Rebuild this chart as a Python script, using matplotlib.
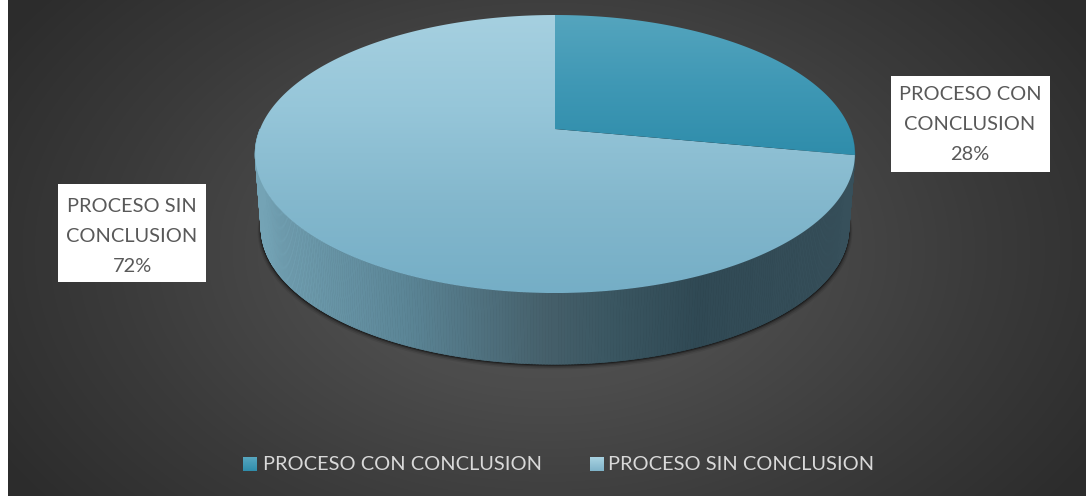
import numpy as np
import matplotlib
matplotlib.use('Agg')
import matplotlib.pyplot as plt
from matplotlib.colors import LinearSegmentedColormap
from matplotlib.patches import Polygon, Rectangle
from matplotlib.collections import PolyCollection

categorias = ['PROCESO CON CONCLUSION', 'PROCESO SIN CONCLUSION']
valores = [28, 72]
etiquetas = ['PROCESO CON\nCONCLUSION', 'PROCESO SIN\nCONCLUSION']

W, H = 1086, 496
plt.rcParams['font.family'] = ['Lato', 'DejaVu Sans']

fig = plt.figure(figsize=(W / 100, H / 100), dpi=100, facecolor='white')
ax = fig.add_axes([0, 0, 1, 1])
ax.set_axis_off()


# vista en perspectiva del disco unidad: angulo medido desde arriba, sentido horario
def rim(ang, cae=0.0, esc=1.0):
    u, v = np.sin(ang), np.cos(ang)
    d = 0.18 * v + 1
    x = 295 * u / d
    y = (-111.3 * v + 129) / d
    return 555 + esc * x, 154 + esc * (y - 154) + cae


def gradiente(poly_xy, colores, vertical=True, zorder=2):
    xy = np.array(poly_xy)
    x0, x1, y0, y1 = xy[:, 0].min(), xy[:, 0].max(), xy[:, 1].min(), xy[:, 1].max()
    cmap = LinearSegmentedColormap.from_list('g', colores)
    g = np.linspace(0, 1, 256)
    g = g[:, None] if vertical else g[None, :]
    im = ax.imshow(g, cmap=cmap, extent=(x0, x1, y1, y0), aspect='auto', zorder=zorder, vmin=0, vmax=1)
    clip = Polygon(xy, closed=True, transform=ax.transData, facecolor='none', edgecolor='none')
    ax.add_patch(clip)
    im.set_clip_path(clip)


# fondo con degradado radial
yy, xx = np.mgrid[0:H, 8:W]
r = np.sqrt(((xx - 547) / 640.0) ** 2 + ((yy - 250) / 420.0) ** 2)
fondo = LinearSegmentedColormap.from_list('f', ['#585858', '#4c4c4c', '#3b3b3b', '#2c2c2c'])
ax.imshow(np.clip(r, 0, 1), cmap=fondo, extent=(8, W, H, 0), aspect='auto', vmin=0, vmax=1, zorder=0)

# pared lateral, color segun x
angs = np.linspace(np.pi * 0.5, np.pi * 1.5, 361)
xa, ya = rim(angs)
xb, yb = rim(angs, cae=74, esc=0.98)

# sombra bajo el pastel
for k, al in zip([7, 5, 3, 1.5], [0.08, 0.14, 0.25, 0.4]):
    xs, ys = rim(np.linspace(0, 2 * np.pi, 200), cae=74 + k * 0.5, esc=0.98 + k / 600)
    ax.add_patch(Polygon(np.c_[xs, ys], closed=True, facecolor='black', edgecolor='none', alpha=al, zorder=1))

pared = LinearSegmentedColormap.from_list('p', [(0, '#74a3b5'), (0.25, '#5b8596'), (0.49, '#455f6a'),
                                                (0.6, '#3a5661'), (0.74, '#304954'), (1, '#37505b')])
quads = []
cols = []
for i in range(len(angs) - 1):
    quads.append([(xa[i], ya[i]), (xa[i + 1], ya[i + 1]), (xb[i + 1], yb[i + 1]), (xb[i], yb[i])])
    cols.append(pared((xa[i] - 256) / 600))
ax.add_collection(PolyCollection(quads, facecolors=cols, edgecolors=cols, linewidths=0.5, zorder=2))

# cara superior, a partir de los valores
total = sum(valores)
corte = 2 * np.pi * valores[0] / total
a1 = np.linspace(0, corte, 120)
a2 = np.linspace(corte, 2 * np.pi, 300)
x1, y1 = rim(a1)
x2, y2 = rim(a2)
gradiente(np.r_[[(555, 129)], np.c_[x2, y2]], ['#a6d0e0', '#96c6d9', '#84b8cd', '#75aec6'], zorder=3)
gradiente(np.r_[[(555, 129)], np.c_[x1, y1]], ['#55a5be', '#3f98b5', '#2f8dab'], zorder=4)

# etiquetas de datos
cajas = [(891, 76, 159, 96, 970, [95, 125, 155]), (58, 184, 148, 98, 132, [206, 237, 266])]
for i in range(2):
    bx, by, bw, bh, cx, ly = cajas[i]
    ax.add_patch(Rectangle((bx, by), bw, bh, facecolor='white', edgecolor='none', zorder=5))
    lineas = etiquetas[i].split('\n') + ['%d%%' % valores[i]]
    for t, y in zip(lineas, ly):
        ax.text(cx, y, t, ha='center', va='center', fontsize=14.4, color='#595959', zorder=6)

# leyenda
pos_cuadro = [243, 590]
pos_texto = [263, 608]
for i in range(2):
    xy = [(pos_cuadro[i], 457), (pos_cuadro[i] + 14, 457), (pos_cuadro[i] + 14, 471), (pos_cuadro[i], 471)]
    gradiente(xy, ['#58a7c0', '#2f8dab'] if i == 0 else ['#a9d3e2', '#7fb3c9'], zorder=3)
    ax.text(pos_texto[i], 464, categorias[i], ha='left', va='center', fontsize=14.4, color='#d9d9d9', zorder=6)

ax.set_xlim(0, W)
ax.set_ylim(H, 0)
fig.savefig('out.png', dpi=100, facecolor='white')
